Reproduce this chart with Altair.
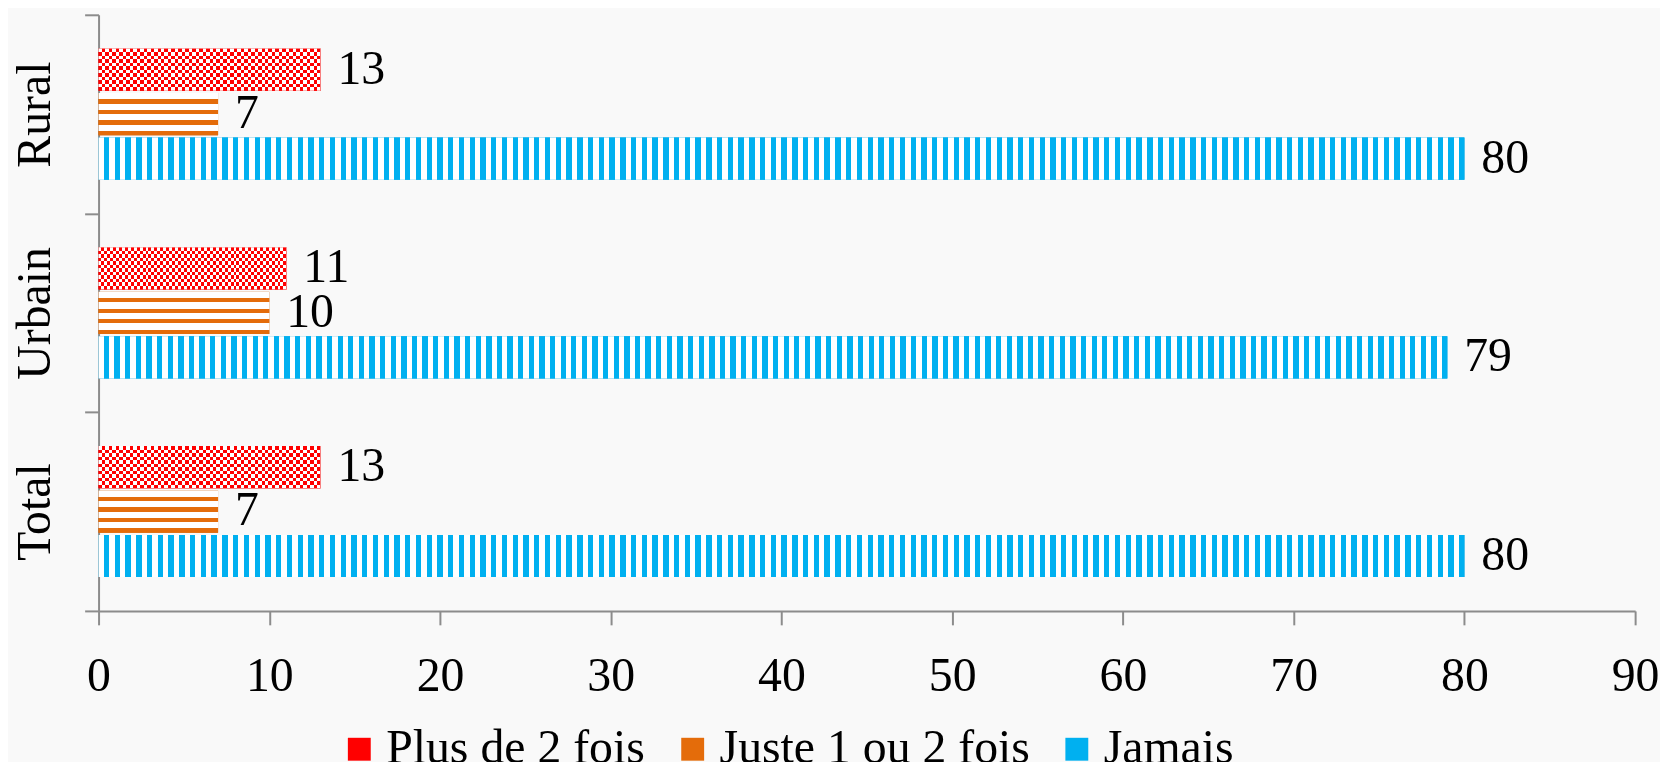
import altair as alt
import pandas as pd

# ---- data ----
categories = ["Rural", "Urbain", "Total"]
series = ["Plus de 2 fois", "Juste 1 ou 2 fois", "Jamais"]
plus_de_2 = [13, 11, 13]
juste_1_2 = [7, 10, 7]
jamais = [80, 79, 80]
x_ticks = [0, 10, 20, 30, 40, 50, 60, 70, 80, 90]

rows = []
for i, c in enumerate(categories):
    rows.append({"cat": c, "serie": series[0], "val": plus_de_2[i]})
    rows.append({"cat": c, "serie": series[1], "val": juste_1_2[i]})
    rows.append({"cat": c, "serie": series[2], "val": jamais[i]})
df = pd.DataFrame(rows)

RED = "#FF0000"
ORANGE = "#E46C0A"
BLUE = "#00B0F0"
FONT = "'Liberation Serif', 'Times New Roman', Tinos, 'DejaVu Serif', serif"
AXIS_GRAY = "#8C8C8C"


def stripes(on, off, n, frac_off, horizontal, start_off=True):
    """Sharp-stop linear gradient that imitates a stripe pattern."""
    stops = []
    for i in range(n):
        a = i / n
        m = (i + frac_off) / n
        b = (i + 1) / n
        first, second = (off, on) if start_off else (on, off)
        stops += [
            {"offset": a, "color": first},
            {"offset": m, "color": first},
            {"offset": m, "color": second},
            {"offset": b, "color": second},
        ]
    g = {"gradient": "linear", "stops": stops,
         "x1": 0, "y1": 0, "x2": 1 if horizontal else 0, "y2": 0 if horizontal else 1}
    return g


blue_fill = stripes(BLUE, "#FFFFFF", 127, 0.5, horizontal=True)
orange_fill = stripes(ORANGE, "#FFFFFF", 4, 0.6, horizontal=False)
red_rows = stripes(RED, "#FFFFFF", 6, 0.5, horizontal=False)
red_cols = stripes("#00FFFF", "#000000", 32, 0.5, horizontal=True)

base = alt.Chart(df).encode(
    x=alt.X("val:Q", title=None,
            scale=alt.Scale(domain=[0, 90], nice=False, zero=True),
            axis=alt.Axis(values=x_ticks, grid=False, labelFont=FONT, labelFontSize=48,
                          labelColor="black", labelPadding=28, tickSize=14,
                          tickColor=AXIS_GRAY, tickWidth=2, domainColor=AXIS_GRAY,
                          domainWidth=2, labelFlush=False)),
    y=alt.Y("cat:N", title=None, sort=categories,
            scale=alt.Scale(paddingInner=0, paddingOuter=0),
            axis=alt.Axis(grid=False, labelFont=FONT, labelFontSize=48, labelColor="black",
                          labelAngle=-90, labelAlign="center", labelBaseline="bottom",
                          labelPadding=25, tickSize=14, tickBand="extent",
                          tickColor=AXIS_GRAY, tickWidth=2, domainColor=AXIS_GRAY,
                          domainWidth=2)),
    yOffset=alt.YOffset("serie:N", sort=series,
                        scale=alt.Scale(paddingInner=0.05, paddingOuter=0.76)),
)

shadow = base.mark_bar(color="#000000", opacity=0.18, x2Offset=3, yOffset=3)

solid = base.mark_bar().encode(
    color=alt.Color("serie:N", sort=series,
                    scale=alt.Scale(domain=series, range=[RED, ORANGE, BLUE]),
                    legend=alt.Legend(title=None, orient="none", direction="horizontal",
                                      legendX=238, legendY=714, symbolType="square",
                                      symbolSize=529, symbolStrokeWidth=0,
                                      labelFont=FONT, labelFontSize=48, labelColor="black",
                                      labelOffset=3, columnPadding=23, labelLimit=600,
                                      symbolOpacity=1))
)

blue_bars = base.transform_filter(alt.datum.serie == series[2]).mark_bar(fill=blue_fill)
orange_bars = base.transform_filter(alt.datum.serie == series[1]).mark_bar(fill=orange_fill)
red_bars1 = base.transform_filter(alt.datum.serie == series[0]).mark_bar(fill=red_rows)
red_bars2 = base.transform_filter(alt.datum.serie == series[0]).mark_bar(fill=red_cols,
                                                                         blend="difference")

labels = base.mark_text(align="left", baseline="middle", dx=17, font=FONT,
                        fontSize=48, color="black").encode(text="val:Q")

chart = alt.layer(shadow, solid, blue_bars, orange_bars, red_bars1, red_bars2,
                  labels).properties(
    width=1544, height=599,
    padding={"left": 91, "top": 5, "right": 25, "bottom": 150},
    autosize=alt.AutoSizeParams(type="none"),
    background="#F9F9F9",
).configure_view(stroke=None)

chart.save("out.html", embed_options={"renderer": "svg", "actions": False})
